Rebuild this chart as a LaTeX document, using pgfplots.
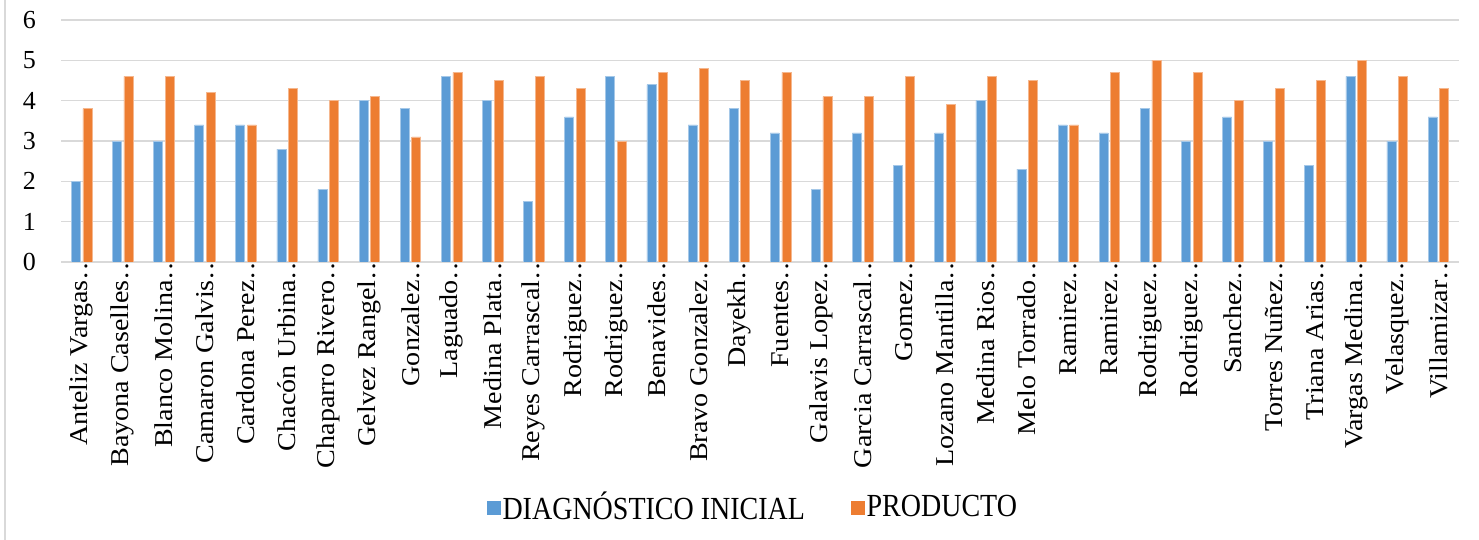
\documentclass[border=0pt]{standalone}
\usepackage{fontspec}
\setmainfont{Liberation Serif}
\usepackage{graphicx}
\usepackage{pgfplots}
\usepackage{pgfplotstable}
\pgfplotsset{compat=1.18}
\definecolor{cblue}{HTML}{5B9BD5}
\definecolor{corange}{HTML}{ED7D31}
\definecolor{cgrid}{HTML}{D9D9D9}
\newcommand{\lab}[1]{\scalebox{1.04}[0.95]{#1}}
\newcommand{\sy}[1]{\scalebox{1}[1.15]{#1}}
\pgfplotstableread{
x d p
0 2.0 3.8
1 3.0 4.6
2 3.0 4.6
3 3.4 4.2
4 3.4 3.4
5 2.8 4.3
6 1.8 4.0
7 4.0 4.1
8 3.8 3.1
9 4.6 4.7
10 4.0 4.5
11 1.5 4.6
12 3.6 4.3
13 4.6 3.0
14 4.4 4.7
15 3.4 4.8
16 3.8 4.5
17 3.2 4.7
18 1.8 4.1
19 3.2 4.1
20 2.4 4.6
21 3.2 3.9
22 4.0 4.6
23 2.3 4.5
24 3.4 3.4
25 3.2 4.7
26 3.8 5.0
27 3.0 4.7
28 3.6 4.0
29 3.0 4.3
30 2.4 4.5
31 4.6 5.0
32 3.0 4.6
33 3.6 4.3
}\data
\begin{document}
\begin{tikzpicture}
\path[use as bounding box] (0,0) rectangle (1479bp,540bp);
\draw[color=cgrid, line width=1.2bp] (5bp,0) -- (5bp,540bp);
\begin{axis}[
  at={(61bp,278bp)}, anchor=south west,
  scale only axis, width=1398bp, height=242bp,
  xmin=-0.5, xmax=33.5, ymin=0, ymax=6,
  ybar, bar width=9bp,
  axis line style={draw=none},
  major tick length=0pt,
  ymajorgrids, grid style={color=cgrid, line width=1.3bp},
  ytick={0,1,2,3,4,5,6},
  yticklabels={0,1,2,3,4,5,6},
  yticklabel style={font=\fontsize{26bp}{30bp}\selectfont, inner sep=0pt, xshift=-25bp},
  xtick={0,...,33},
  xticklabels={\lab{Anteliz Vargas…},\lab{Bayona Caselles…},\lab{Blanco Molina…},\lab{Camaron Galvis…},\lab{Cardona Perez…},\lab{Chacón Urbina…},\lab{Chaparro Rivero…},\lab{Gelvez Rangel…},\lab{Gonzalez…},\lab{Laguado…},\lab{Medina Plata…},\lab{Reyes Carrascal…},\lab{Rodriguez…},\lab{Rodriguez…},\lab{Benavides…},\lab{Bravo Gonzalez…},\lab{Dayekh…},\lab{Fuentes…},\lab{Galavis Lopez…},\lab{Garcia Carrascal…},\lab{Gomez…},\lab{Lozano Mantilla…},\lab{Medina Rios…},\lab{Melo Torrado…},\lab{Ramirez…},\lab{Ramirez…},\lab{Rodriguez…},\lab{Rodriguez…},\lab{Sanchez…},\lab{Torres Nuñez…},\lab{Triana Arias…},\lab{Vargas Medina…},\lab{Velasquez…},\lab{Villamizar…}},
  xticklabel style={font=\fontsize{27bp}{30bp}\selectfont, rotate=90, anchor=east, inner sep=0pt, xshift=10bp},
  legend columns=2,
  legend style={draw=none, at={(0.495,-1.012)}, anchor=center,
    font=\fontsize{28bp}{32bp}\selectfont,
    /tikz/every even column/.append style={column sep=44bp}},
]
\addplot[fill=cblue, draw=cblue!55!white, line width=0.6bp, bar shift=-5.8bp,
  legend image code/.code={\fill[cblue] (0bp,-7bp) rectangle (13bp,6bp);}] table[x=x, y=d] {\data};
\addplot[fill=corange, draw=corange!55!white, line width=0.6bp, bar shift=5.8bp,
  legend image code/.code={\fill[corange] (0bp,-7bp) rectangle (13bp,6bp);}] table[x=x, y=p] {\data};
\legend{\sy{DIAGNÓSTICO INICIAL},\sy{PRODUCTO}}
\end{axis}
\end{tikzpicture}
\end{document}
